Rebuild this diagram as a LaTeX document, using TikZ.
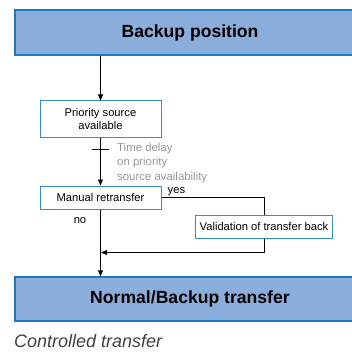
\documentclass[tikz,border=0pt]{standalone}
\usepackage{fontspec}
\setmainfont{Liberation Sans}
\usetikzlibrary{positioning,arrows.meta}
\definecolor{bleuBandeau}{RGB}{138,173,220}
\definecolor{bleuTrait}{RGB}{30,120,190}
\definecolor{bleuBoite}{RGB}{55,138,205}
\definecolor{grisNote}{RGB}{150,150,150}
\tikzset{
  >={Triangle[length=6pt,width=5pt]},
  bandeau/.style={draw=bleuTrait, fill=bleuBandeau, line width=1.5pt, inner sep=0pt,
    minimum width=350pt, minimum height=#1, font=\fontsize{17.6}{20}\selectfont\bfseries},
  bandeau/.default=44pt,
  boite/.style={draw=bleuBoite, fill=white, line width=1pt, align=center, inner sep=0pt,
    minimum width=#1, minimum height=23pt, font=\fontsize{11.2}{13.5}\selectfont},
  boite/.default=121pt,
  fleche/.style={->, line width=0.9pt},
  trait/.style={line width=0.9pt},
  note/.style={text=grisNote, align=left, inner sep=0pt, font=\fontsize{11.4}{14.5}\selectfont},
  etiquette/.style={inner sep=0pt, font=\fontsize{11.2}{13}\selectfont},
}
\begin{document}
\begin{tikzpicture}[x=1pt,y=1pt]
  \useasboundingbox (0,0) rectangle (352,351);
  % bandeaux
  \node[bandeau=45pt] (haut) at (190,318.5) {Backup position};
  \node[bandeau] (bas) at (190,52) {Normal/Backup transfer};
  % étapes
  \node[boite, minimum height=36pt] (prio) at (100.5,232) {Priority source\\available};
  \node[boite] (manuel) at (100.5,153.5) {Manual retransfer};
  \node[boite=137pt] (valid) at (264,124.5) {Validation of transfer back};
  % flèches
  \draw[fleche] (haut.south -| prio.north) -- (prio.north);
  \draw[fleche] (prio.south) -- (manuel.north);
  \draw[trait] ([xshift=-8.5pt,yshift=-12pt]prio.south) -- ++(17,0);
  \node[note, anchor=north west] (delai) at (117,208) {Time delay\\on priority\\source availability};
  \draw[trait] (manuel.east) -| (valid.north);
  \node[etiquette, anchor=south west] (oui) at ([xshift=6pt,yshift=1pt]manuel.east) {yes};
  \draw[fleche] (manuel.south) -- (bas.north -| manuel.south);
  \node[etiquette] (non) at (80,130) {no};
  \coordinate (retour) at ([yshift=-14pt]valid.south);
  \draw[fleche, shorten >=0.5pt] (valid.south) -- (retour) -- (retour -| manuel.south);
  % légende
  \node[anchor=base west, inner sep=0pt, font=\fontsize{18}{21}\selectfont\itshape,
    text=black!75] (legende) at (14,4) {Controlled transfer};
\end{tikzpicture}
\end{document}
